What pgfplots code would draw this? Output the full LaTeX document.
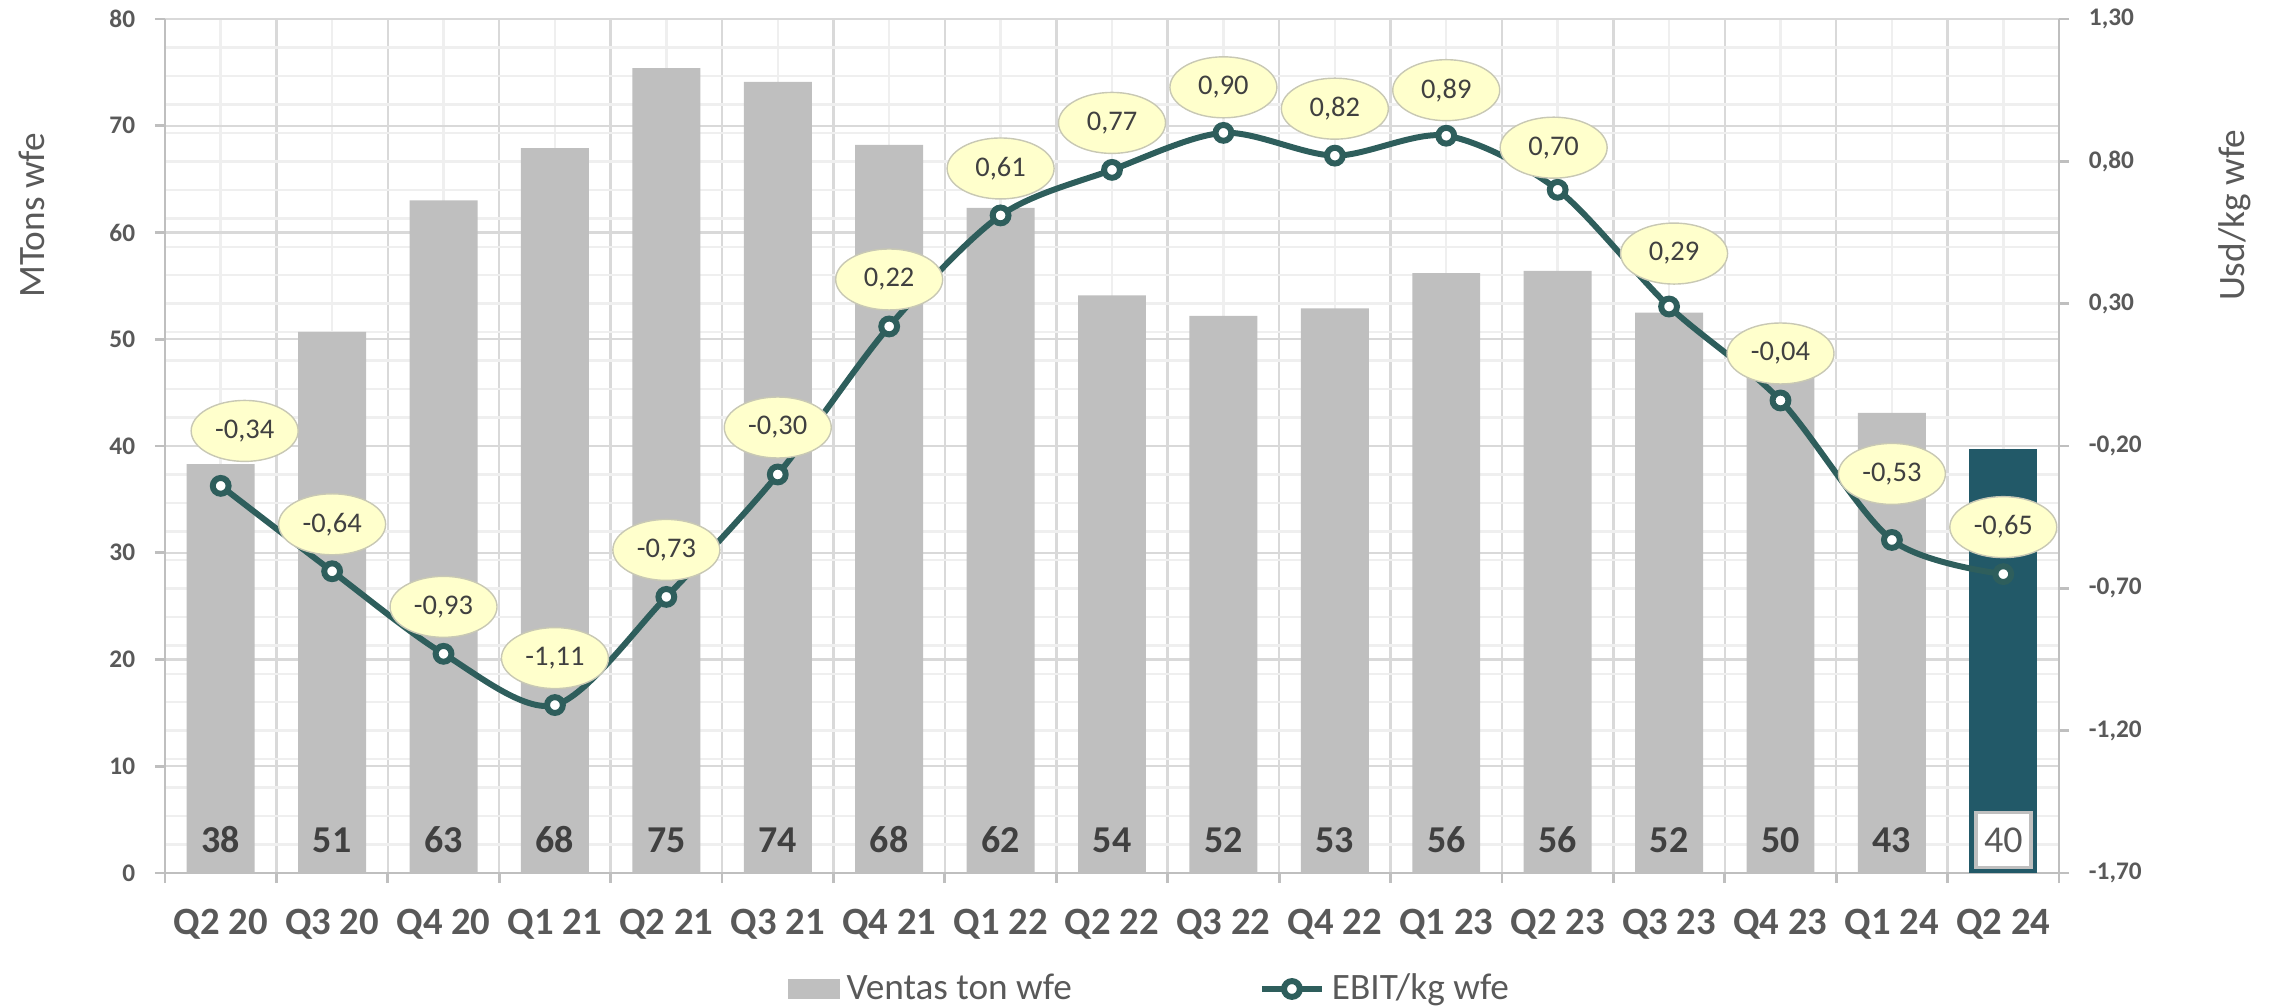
\documentclass[border=0pt]{standalone}
\usepackage{pgfplots}
\pgfplotsset{compat=1.18}
\usepackage{pgfplotstable}
\usepackage{fontspec}
\setmainfont{Carlito}
\usetikzlibrary{shapes.geometric}
\definecolor{barg}{HTML}{BFBFBF}
\definecolor{lastbar}{HTML}{225968}
\definecolor{linec}{HTML}{2E5E5C}
\definecolor{txt}{HTML}{595959}
\definecolor{txtd}{HTML}{404040}
\definecolor{gridmaj}{HTML}{D9D9D9}
\definecolor{gridmin}{HTML}{EFEFEF}
\definecolor{axc}{HTML}{BFBFBF}
\definecolor{lblfill}{HTML}{FFFFCC}
\definecolor{lbldraw}{HTML}{C8C8B4}

\pgfplotstableread{
x v lab ly
0 38.3 38 3.1
1 50.7 51 3.1
2 63.0 63 3.1
3 67.9 68 3.1
4 75.4 75 3.1
5 74.1 74 3.1
6 68.2 68 3.1
7 62.3 62 3.1
8 54.1 54 3.1
9 52.2 52 3.1
10 52.9 53 3.1
11 56.2 56 3.1
12 56.4 56 3.1
13 52.5 52 3.1
14 49.8 50 3.1
15 43.1 43 3.1
}\ventas

\pgfplotstableread{
x v lab ly
16 39.7 40 3.1
}\ventaslast

\pgfplotstableread{
x v
0 -0.34
1 -0.64
2 -0.93
3 -1.11
4 -0.73
5 -0.30
6 0.22
7 0.61
8 0.77
9 0.90
10 0.82
11 0.89
12 0.70
13 0.29
14 -0.04
15 -0.53
16 -0.65
}\ebit

\pgfplotstableread{
x y lab
0.215 -0.147 -0,34
1 -0.475 -0,64
2 -0.765 -0,93
3 -0.945 -1,11
4 -0.565 -0,73
5 -0.135 -0,30
6 0.385 0,22
7 0.775 0,61
8 0.935 0,77
9 1.06 0,90
10 0.985 0,82
11 1.05 0,89
11.964 0.848 0,70
13.045 0.476 0,29
14 0.125 -0,04
15 -0.298 -0,53
16 -0.485 -0,65
}\ebitlab

\begin{document}
\begin{tikzpicture}
\path[use as bounding box] (-1.65,-1.34) rectangle (21.10,8.73);
\begin{axis}[
  at={(0,0)}, anchor=south west,
  scale only axis, width=18.94cm, height=8.54cm,
  xmin=-0.5, xmax=16.5, ymin=0, ymax=80,
  axis x line=bottom, axis y line=left,
  axis line style={-, draw=axc, line width=0.8pt},
  xtick={-0.5,0.5,...,16.5},
  x tick label as interval,
  xticklabels={Q2 20,Q3 20,Q4 20,Q1 21,Q2 21,Q3 21,Q4 21,Q1 22,Q2 22,Q3 22,Q4 22,Q1 23,Q2 23,Q3 23,Q4 23,Q1 24,Q2 24},
  minor xtick={0,...,16},
  ytick={0,10,...,80},
  minor ytick={2.6667,5.3333,8,10.6667,13.3333,16,18.6667,21.3333,24,26.6667,29.3333,32,34.6667,37.3333,40,42.6667,45.3333,48,50.6667,53.3333,56,58.6667,61.3333,64,66.6667,69.3333,72,74.6667,77.3333},
  grid=both,
  major grid style={draw=gridmaj, line width=0.7pt},
  minor grid style={draw=gridmin, line width=0.7pt},
  tick align=outside,
  major tick length=0.1cm, minor tick length=0cm,
  tick style={draw=axc, line width=0.8pt},
  x tick label style={font=\bfseries\fontsize{11}{13}\selectfont, text=txt, yshift=-0.14cm},
  y tick label style={font=\bfseries\fontsize{7.2}{9}\selectfont, text=txt, xshift=-0.075cm},
  /pgf/number format/assume math mode=true,
  ylabel={MTons wfe},
  ylabel style={at={(axis description cs:-0.0702,0.77)}, anchor=center, font=\fontsize{10.6}{12}\selectfont, text=txt},
  legend columns=2,
  legend cell align=left,
  legend style={at={(axis description cs:0.521,-0.1358)}, anchor=center, draw=none, fill=none,
    font=\fontsize{10.6}{12}\selectfont, text=txt,
    /tikz/every even column/.append style={column sep=1.8cm}},
]
\addplot[ybar, bar width=0.61, fill=barg, draw=none,
  legend image code/.code={\fill[barg] (0cm,-0.1cm) rectangle (0.52cm,0.1cm);}]
  table[x=x,y=v]{\ventas};
\addlegendentry{Ventas ton wfe}
\addlegendimage{linec, line width=1.7pt, mark=*, mark size=2.25pt, mark options={fill=white, draw=linec, line width=1.7pt}}
\addlegendentry{EBIT/kg wfe}
\addplot[ybar, bar width=0.61, fill=lastbar, draw=none, forget plot]
  table[x=x,y=v]{\ventaslast};
\addplot[draw=none, forget plot, nodes near coords, point meta=explicit symbolic,
  every node near coord/.append style={anchor=center, font=\bfseries\fontsize{10.8}{12}\selectfont, text=txtd}]
  table[x=x,y=ly,meta=lab]{\ventas};
\addplot[draw=none, forget plot, nodes near coords, point meta=explicit symbolic,
  every node near coord/.append style={anchor=center, rectangle, fill=white, draw=axc, line width=1pt,
    minimum width=0.55cm, minimum height=0.55cm, inner sep=0pt,
    font=\fontsize{10.8}{12}\selectfont, text=txt}]
  table[x=x,y=ly,meta=lab]{\ventaslast};
\end{axis}
\begin{axis}[
  at={(0,0)}, anchor=south west,
  scale only axis, width=18.94cm, height=8.54cm,
  xmin=-0.5, xmax=16.5, ymin=-1.7, ymax=1.3,
  axis x line=none, axis y line=right,
  axis line style={-, draw=axc, line width=0.8pt},
  ytick={-1.7,-1.2,-0.7,-0.2,0.3,0.8,1.3},
  tick align=outside, major tick length=0.1cm,
  tick style={draw=axc, line width=0.8pt},
  yticklabel style={font=\bfseries\fontsize{7.2}{9}\selectfont, text=txt, xshift=0.075cm,
    /pgf/number format/.cd, fixed, fixed zerofill, precision=2, use comma, assume math mode=true},
  ylabel={Usd/kg wfe},
  ylabel style={at={(axis description cs:1.0929,0.77)}, anchor=center, font=\fontsize{10.6}{12}\selectfont, text=txt},
]
\addplot[smooth, color=linec, line width=1.7pt, mark=*, mark size=2.25pt,
  mark options={fill=white, draw=linec, line width=1.7pt}]
  table[x=x,y=v]{\ebit};
\addplot[draw=none, nodes near coords, point meta=explicit symbolic,
  every node near coord/.append style={anchor=center, ellipse, fill=lblfill, draw=lbldraw, line width=0.4pt,
    minimum width=1.07cm, minimum height=0.61cm, inner sep=0pt,
    font=\fontsize{8.1}{10}\selectfont, text=txtd}]
  table[x=x,y=y,meta=lab]{\ebitlab};
\end{axis}
\end{tikzpicture}
\end{document}
